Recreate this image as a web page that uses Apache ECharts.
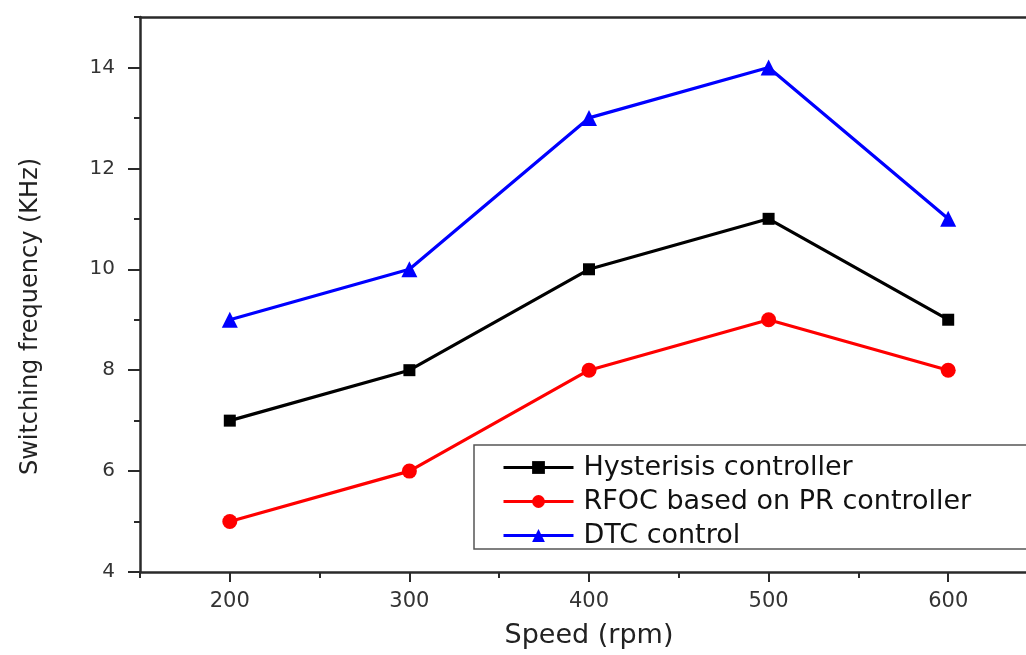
<!DOCTYPE html>
<html>
<head>
<meta charset="utf-8">
<script src="https://cdn.jsdelivr.net/npm/echarts@6/dist/echarts.min.js"></script>
<style>
html, body { margin: 0; padding: 0; background: #fff; }
#chart { width: 1026px; height: 655px; }
</style>
</head>
<body>
<div id="chart"></div>
<script>
// speeds (rpm)
const speeds = [200, 300, 400, 500, 600];
// switching frequency (KHz)
const hysteresis = [7, 8, 10, 11, 9];
const rfoc = [5, 6, 8, 9, 8];
const dtc = [9, 10, 13, 14, 11];
const seriesNames = ["Hysterisis controller", "RFOC based on PR controller", "DTC control"];
const xMajor = [200, 300, 400, 500, 600];
const xMinor = [150, 250, 350, 450, 550, 650];
const yMajor = [4, 6, 8, 10, 12, 14];
const yMinor = [5, 7, 9, 11, 13, 15];

const font = "DejaVu Sans";
const axisColor = "#2a2a2a";

let myChart = echarts.init(document.getElementById("chart"));

function pairs(vals) {
    return speeds.map((s, i) => [s, vals[i]]);
}

let option = {
    animation: false,
    grid: {
        left: 140,
        top: 17,
        width: 898,
        bottom: 83,
        outerBoundsMode: "none",
        containLabel: false,
    },
    legend: {
        left: 474,
        top: 445,
        orient: "vertical",
        padding: [9, 80, 0, 28],
        borderColor: "#555",
        borderWidth: 1.5,
        itemWidth: 70,
        itemHeight: 16,
        itemGap: 7,
        lineStyle: { width: 3 },
        textStyle: { fontFamily: font, fontSize: 27, color: "#111", lineHeight: 26, padding: [0, 0, 0, 5] },
        data: seriesNames,
    },
    xAxis: [
        {
            type: "value",
            min: 150,
            max: 650,
            name: "Speed (rpm)",
            nameLocation: "middle",
            nameGap: 50,
            nameTextStyle: { fontFamily: font, fontSize: 27, color: "#222" },
            splitLine: { show: false },
            axisLine: { onZero: false, lineStyle: { color: axisColor, width: 2.5 } },
            axisTick: { customValues: xMajor, length: 10, lineStyle: { color: axisColor, width: 2 } },
            axisLabel: { customValues: xMajor, margin: 19, fontFamily: font, fontSize: 21, color: "#333" },
        },
        {
            type: "value",
            min: 150,
            max: 650,
            position: "bottom",
            splitLine: { show: false },
            axisLine: { show: false },
            axisTick: { customValues: xMinor, length: 6, lineStyle: { color: axisColor, width: 2 } },
            axisLabel: { show: false },
        },
        {
            type: "value",
            min: 150,
            max: 650,
            position: "top",
            splitLine: { show: false },
            axisLine: { show: true, lineStyle: { color: axisColor, width: 2.5 } },
            axisTick: { show: false },
            axisLabel: { show: false },
        },
    ],
    yAxis: [
        {
            type: "value",
            min: 4,
            max: 15,
            name: "Switching frequency (KHz)",
            nameLocation: "middle",
            nameGap: 97,
            nameTextStyle: { fontFamily: font, fontSize: 24, color: "#222", padding: [0, 44, 0, 0] },
            splitLine: { show: false },
            axisLine: { onZero: false, lineStyle: { color: axisColor, width: 2.5 } },
            axisTick: { customValues: yMajor, length: 12, lineStyle: { color: axisColor, width: 2 } },
            axisLabel: { customValues: yMajor, margin: 25, fontFamily: font, fontSize: 20, color: "#333" },
        },
        {
            type: "value",
            min: 4,
            max: 15,
            position: "left",
            splitLine: { show: false },
            axisLine: { show: false },
            axisTick: { customValues: yMinor, length: 6, lineStyle: { color: axisColor, width: 2 } },
            axisLabel: { show: false },
        },
    ],
    series: [
        {
            name: seriesNames[0],
            type: "line",
            data: pairs(hysteresis),
            symbol: "rect",
            symbolSize: 12,
            lineStyle: { color: "#000", width: 3.2 },
            itemStyle: { color: "#000" },
        },
        {
            name: seriesNames[1],
            type: "line",
            data: pairs(rfoc),
            symbol: "circle",
            symbolSize: 15,
            lineStyle: { color: "#ff0000", width: 3.2 },
            itemStyle: { color: "#ff0000" },
        },
        {
            name: seriesNames[2],
            type: "line",
            data: pairs(dtc),
            symbol: "triangle",
            symbolSize: 16,
            lineStyle: { color: "#0000ff", width: 3.2 },
            itemStyle: { color: "#0000ff" },
        },
    ],
};

myChart.setOption(option);
</script>
</body>
</html>
